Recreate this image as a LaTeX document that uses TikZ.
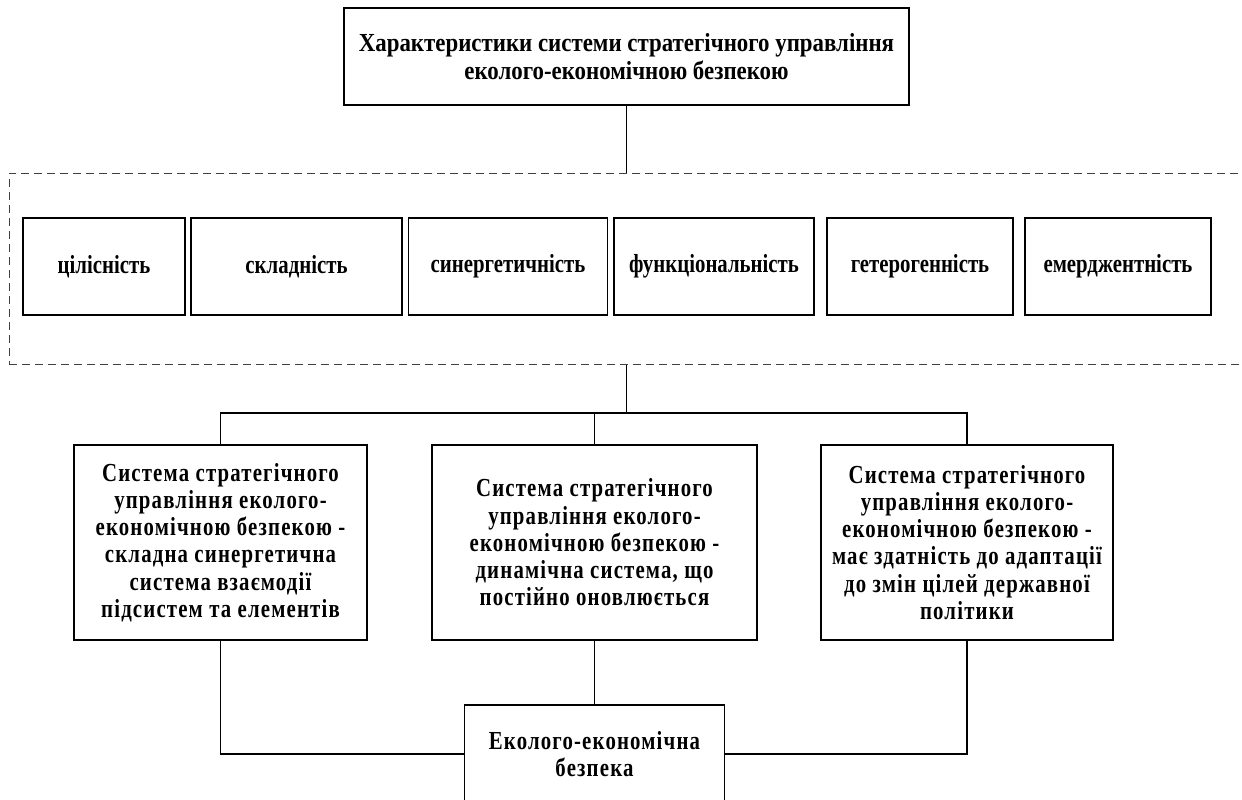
\documentclass[tikz,border=0pt]{standalone}
\usepackage{fontspec}
\setmainfont{Liberation Serif}
\newfontfamily\topfont[FakeStretch=0.88]{Liberation Serif}
\newfontfamily\smallfont[FakeStretch=0.8]{Liberation Serif}
\newfontfamily\widefont[FakeStretch=0.8,LetterSpace=4.5]{Liberation Serif}
\begin{document}
\begin{tikzpicture}[x=1pt,y=-1pt,
  box/.style={draw=black, line width=1.2pt, align=center, inner sep=0pt},
  tbox/.style={box, font=\topfont\fontsize{26}{27.5}\selectfont\bfseries},
  sbox/.style={box, minimum height=97pt, font=\smallfont\fontsize{26}{27.5}\selectfont\bfseries},
  wbox/.style={box, minimum height=195pt, font=\widefont\fontsize{26}{27.2}\selectfont\bfseries},
  grpbox/.style={draw=black!75, line width=1pt, dash pattern=on 8pt off 5pt},
  link/.style={draw=black, line width=1.4pt},
]
\useasboundingbox (0,0) rectangle (1242,800);
\clip (0,0) rectangle (1242,800);

\node[tbox, minimum width=565pt, minimum height=97pt] (top) at (626.5,56.5)
  {Характеристики системи стратегічного управління\\еколого-економічною безпекою};

\node[grpbox, minimum width=1260pt, minimum height=191pt] (grp) at (639,268.5) {};

\node[sbox, minimum width=162pt]   (b1) at (104,266.5)  {цілісність};
\node[sbox, minimum width=211pt]   (b2) at (296.5,266.5) {складність};
\node[sbox, minimum width=199.5pt] (b3) at (508,266.5)  {синергетичність};
\node[sbox, minimum width=200pt]   (b4) at (714,266.5)  {функціональність};
\node[sbox, minimum width=186pt]   (b5) at (920,266.5)  {гетерогенність};
\node[sbox, minimum width=186pt]   (b6) at (1118,266.5) {емерджентність};

\node[wbox, minimum width=293pt] (L) at (220.5,542.5)
  {Система стратегічного\\управління еколого-\\економічною безпекою -\\складна синергетична\\система взаємодії\\підсистем та елементів};
\node[wbox, minimum width=325pt] (M) at (594.5,542.5)
  {Система стратегічного\\управління еколого-\\економічною безпекою -\\динамічна система, що\\постійно оновлюється};
\node[wbox, minimum width=292pt] (R) at (967,542.5)
  {Система стратегічного\\управління еколого-\\економічною безпекою -\\має здатність до адаптації\\до змін цілей державної\\політики};

\node[wbox, minimum width=260pt, minimum height=98pt] (E) at (594.5,754)
  {Еколого-економічна\\безпека};

\coordinate (bus) at (626.5,413);
\draw[link] (top.south) -- (top.south |- grp.north);
\draw[link] (top.south |- grp.south) -- (bus);
\draw[link] (L.north) |- (bus) -| (R.north);
\draw[link] (M.north) -- (M.north |- bus);
\draw[link] (M.south) -- (E.north);
\draw[link] (L.south) |- (E.west);
\draw[link] (R.south) |- (E.east);
\end{tikzpicture}
\end{document}
